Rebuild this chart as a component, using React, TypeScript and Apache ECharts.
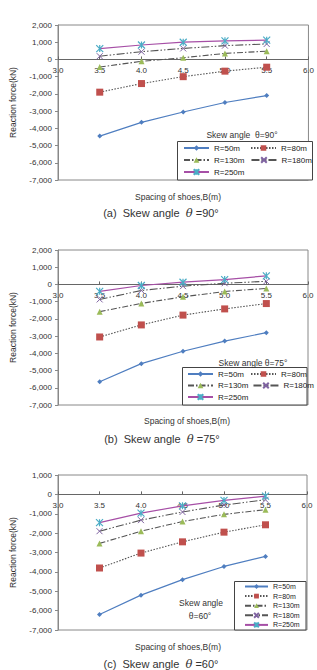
import React, { useEffect, useRef } from 'react';
import * as echarts from 'echarts';

// Spacing of shoes B (m)
const spacing = [3.5, 4.0, 4.5, 5.0, 5.5];
const radii = ['R=50m', 'R=80m', 'R=130m', 'R=180m', 'R=250m'];
const xTickLabels = ['3.0', '3.5', '4.0', '4.5', '5.0', '5.5', '6.0'];

// (a) Skew angle 90°
const a90R50 = [-4450, -3650, -3050, -2500, -2100];
const a90R80 = [-1900, -1400, -1000, -680, -450];
const a90R130 = [-440, -110, 100, 350, 480];
const a90R180 = [190, 450, 640, 800, 900];
const a90R250 = [630, 840, 1000, 1080, 1120];

// (b) Skew angle 75°
const a75R50 = [-5650, -4600, -3880, -3290, -2800];
const a75R80 = [-3050, -2350, -1780, -1420, -1110];
const a75R130 = [-1580, -1100, -720, -410, -230];
const a75R180 = [-870, -350, -100, 70, 180];
const a75R250 = [-400, -60, 130, 280, 500];

// (c) Skew angle 60°
const a60R50 = [-6200, -5200, -4400, -3720, -3200];
const a60R80 = [-3800, -3030, -2450, -1950, -1570];
const a60R130 = [-2530, -1900, -1400, -1030, -790];
const a60R180 = [-1900, -1330, -910, -550, -280];
const a60R250 = [-1460, -970, -590, -310, -90];

const panelData = [
  [a90R50, a90R80, a90R130, a90R180, a90R250],
  [a75R50, a75R80, a75R130, a75R180, a75R250],
  [a60R50, a60R80, a60R130, a60R180, a60R250],
];
const yMax = [2000, 2000, 1000];
const yMin = -7000;

const FONT = 'Liberation Sans, Arial, sans-serif';

const styles = [
  { symbol: 'diamond', symbolSize: 5, line: { color: '#4F7EC0', width: 1.2, type: 'solid' }, item: { color: '#4F7EC0' } },
  { symbol: 'rect', symbolSize: 7, line: { color: '#555', width: 1.1, type: [1.5, 1.5] }, item: { color: '#C0504D' } },
  { symbol: 'triangle', symbolSize: 6, line: { color: '#555', width: 1.1, type: [6, 2, 1.5, 2] }, item: { color: '#9BBB59' } },
  { symbol: 'path://M0,0L10,10M10,0L0,10', symbolSize: 6, line: { color: '#555', width: 1.1, type: [8, 2, 1.5, 2, 1.5, 2] }, item: { color: 'rgba(0,0,0,0)', borderColor: '#8064A2', borderWidth: 1 } },
  { symbol: 'path://M0,0L10,10M10,0L0,10M5,0L5,10', symbolSize: 7, line: { color: '#A64FA6', width: 1.2, type: 'solid' }, item: { color: 'rgba(0,0,0,0)', borderColor: '#4BACC6', borderWidth: 1.2 } },
];

const grids = [
  { left: 52, top: 25, right: 5, height: 155 },
  { left: 52, top: 250, right: 9, height: 155 },
  { left: 52, top: 475, right: 10, height: 155 },
];

const fmt = (v: number) => {
  const s = Math.abs(v).toString().replace(/\B(?=(\d{3})+(?!\d))/g, ',');
  return v < 0 ? '-' + s : s;
};

function buildOption() {
  const xAxis = grids.map((g, gi) => ({
    type: 'value',
    gridIndex: gi,
    position: 'bottom',
    min: 3,
    max: 6,
    interval: 0.5,
    // place the axis (line, ticks, labels) at the zero level of the y axis
    offset: -(g.height * (0 - yMin)) / (yMax[gi] - yMin),
    axisLine: { onZero: false, lineStyle: { color: '#666', width: 1 } },
    axisTick: { inside: true, length: 3, lineStyle: { color: '#666' } },
    axisLabel: {
      fontSize: 8, color: '#333', fontFamily: FONT, margin: 7,
      formatter: (v: number) => xTickLabels[Math.round((v - 3) / 0.5)] ?? v.toFixed(1),
    },
    splitLine: { show: false },
  }));
  const yAxis = grids.map((_, gi) => ({
    type: 'value',
    gridIndex: gi,
    min: yMin,
    max: yMax[gi],
    interval: 1000,
    name: 'Reaction force(kN)',
    nameLocation: 'middle',
    nameGap: 41,
    nameTextStyle: { fontSize: 8.5, color: '#333', fontFamily: FONT },
    axisLine: { show: true, onZero: false, lineStyle: { color: '#888' } },
    axisTick: { show: true, length: 3, lineStyle: { color: '#888' } },
    axisLabel: { fontSize: 8, color: '#333', fontFamily: FONT, margin: 6, formatter: (v: number) => fmt(v) },
    splitLine: { show: false },
  }));
  const series: any[] = [];
  panelData.forEach((panel, gi) => {
    panel.forEach((vals, ri) => {
      const st = styles[ri];
      series.push({
        type: 'line',
        name: radii[ri],
        xAxisIndex: gi,
        yAxisIndex: gi,
        data: spacing.map((x, i) => [x, vals[i]]),
        symbol: st.symbol,
        symbolSize: st.symbolSize,
        showAllSymbol: true,
        lineStyle: st.line,
        itemStyle: st.item,
        z: 2 + ri * 0.1,
      });
    });
  });

  const legBase = {
    padding: 0,
    selectedMode: false,
    itemWidth: 25,
    itemHeight: 7,
    textStyle: { fontSize: 8, color: '#222', fontFamily: FONT, lineHeight: 10 },
    z: 10,
  };
  const legend: any[] = [
    { ...legBase, left: 183, top: 143, itemGap: 6, data: [radii[0], radii[1]], textStyle: { ...legBase.textStyle, width: 30 } },
    { ...legBase, left: 183, top: 155, itemGap: 6, data: [radii[2], radii[3]], textStyle: { ...legBase.textStyle, width: 30 } },
    { ...legBase, left: 183, top: 167, itemGap: 6, data: [radii[4]], textStyle: { ...legBase.textStyle, width: 30 } },
    { ...legBase, left: 187, top: 369, itemGap: 4, data: [radii[0], radii[1]], textStyle: { ...legBase.textStyle, width: 28 } },
    { ...legBase, left: 187, top: 380.5, itemGap: 4, data: [radii[2], radii[3]], textStyle: { ...legBase.textStyle, width: 28 } },
    { ...legBase, left: 187, top: 392, itemGap: 4, data: [radii[4]], textStyle: { ...legBase.textStyle, width: 28 } },
    {
      ...legBase, left: 244, top: 582.5, orient: 'vertical', itemGap: 1.6, itemWidth: 23, itemHeight: 6,
      data: radii, textStyle: { fontSize: 7, color: '#222', fontFamily: FONT, lineHeight: 8 },
    },
  ];

  const txt = (text: string, x: number, y: number, size: number, extra: any = {}) => ({
    type: 'text', z: 20,
    style: { text, x, y, fill: '#333', font: `${size}px ${FONT}`, align: 'center', verticalAlign: 'middle', ...extra },
  });
  const caption = (label: string, deg: string, x: number, y: number) => ({
    type: 'text', z: 20,
    style: {
      text: `{a|${label}  Skew angle  }{t|θ}{a| =${deg}°}`,
      x, y, align: 'center', verticalAlign: 'middle',
      rich: {
        a: { fontSize: 11, fontFamily: FONT, fill: '#333', color: '#333' },
        t: { fontSize: 11.5, fontFamily: 'DejaVu Serif, serif', fontStyle: 'italic', fill: '#333', color: '#333' },
      },
    },
  });
  const box = (x: number, y: number, w: number, h: number) => ({
    type: 'rect', z: 5,
    shape: { x, y, width: w, height: h },
    style: { fill: '#fff', stroke: '#444', lineWidth: 1 },
  });

  const graphic = [
    box(177.5, 141.5, 135, 38.5),
    box(182.5, 367.5, 124.5, 37.5),
    box(234.5, 581.5, 71.5, 48.5),
    txt('Skew angle  θ=90°', 242, 135, 8.5),
    txt('Skew angle θ=75°', 253, 363, 8.5),
    txt('Skew angle', 201, 603, 8.5),
    txt('θ=60°', 200, 616, 8.5),
    txt('Spacing of shoes,B(m)', 178, 197, 8.5),
    txt('Spacing of shoes,B(m)', 187, 421, 8.5),
    txt('Spacing of shoes,B(m)', 178, 647, 8.5),
    caption('(a)', '90', 161, 213),
    caption('(b)', '75', 162, 439),
    caption('(c)', '60', 161, 664),
  ];

  return {
    animation: false,
    backgroundColor: '#fff',
    grid: grids.map((g) => ({ ...g, show: true, borderColor: '#888', borderWidth: 1, backgroundColor: 'transparent' })),
    xAxis,
    yAxis,
    legend,
    series,
    graphic,
  };
}

export default function App() {
  const ref = useRef<HTMLDivElement>(null);
  useEffect(() => {
    if (!ref.current) return;
    const chart = echarts.init(ref.current, undefined, { renderer: 'svg' });
    chart.setOption(buildOption() as any);
    return () => chart.dispose();
  }, []);
  return (
    <div
      ref={ref}
      style={{ position: 'absolute', left: 0, top: 0, width: 317, height: 670, background: '#fff' }}
    />
  );
}
